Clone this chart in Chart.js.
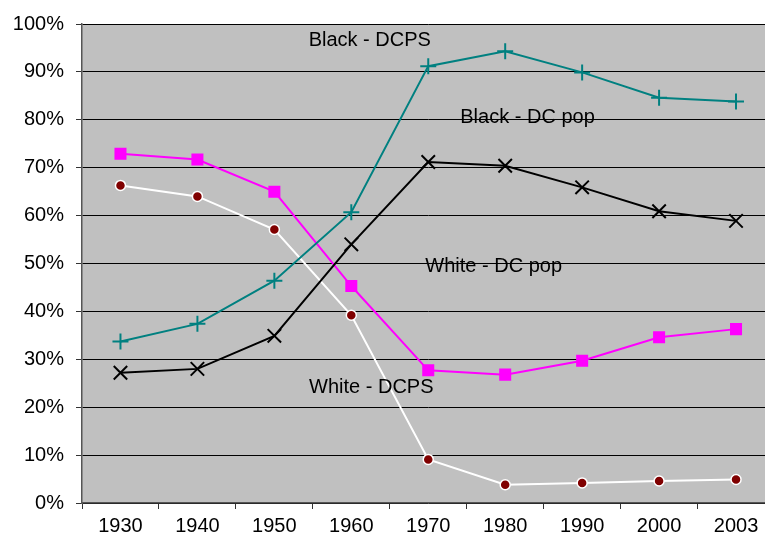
<!DOCTYPE html>
<html>
<head>
<meta charset="utf-8">
<script src="https://cdn.jsdelivr.net/npm/chart.js@4/dist/chart.umd.min.js"></script>
<style>
  html, body { margin: 0; padding: 0; background: #fff; overflow: hidden; }
  #wrap { width: 786px; height: 543px; }
</style>
</head>
<body>
<div id="wrap"><canvas id="chart" width="786" height="543"></canvas></div>
<script>
const years = ['1930', '1940', '1950', '1960', '1970', '1980', '1990', '2000', '2003'];
const blackDCPS = [33.7, 37.4, 46.4, 60.7, 91.2, 94.3, 89.9, 84.6, 83.8];
const blackDCpop = [27.2, 28.0, 34.9, 54.0, 71.2, 70.4, 65.9, 60.9, 58.9];
const whiteDCpop = [72.9, 71.7, 65.0, 45.3, 27.7, 26.8, 29.7, 34.6, 36.3];
const whiteDCPS = [66.3, 64.0, 57.1, 39.2, 9.1, 3.8, 4.2, 4.6, 4.9];
const yTicks = [0, 10, 20, 30, 40, 50, 60, 70, 80, 90, 100];

// series names drawn inside the plot, anchored at (category index, value)
const seriesLabels = [
  { text: 'Black - DCPS', x: 3.24, y: 96.6 },
  { text: 'Black - DC pop', x: 5.29, y: 80.5 },
  { text: 'White - DC pop', x: 4.85, y: 49.3 },
  { text: 'White - DCPS', x: 3.26, y: 24.2 }
];

const font = '"Liberation Sans", Arial, sans-serif';

const plotBg = {
  id: 'plotBg',
  beforeDraw(chart) {
    const { ctx, chartArea: a } = chart;
    ctx.save();
    ctx.fillStyle = '#c0c0c0';
    ctx.fillRect(a.left, a.top, a.right - a.left, a.bottom - a.top);
    ctx.restore();
  }
};

const inlineLabels = {
  id: 'inlineLabels',
  afterDatasetsDraw(chart) {
    const { ctx, scales } = chart;
    ctx.save();
    ctx.font = '20px ' + font;
    ctx.fillStyle = '#000';
    ctx.textAlign = 'center';
    ctx.textBaseline = 'middle';
    seriesLabels.forEach(l => {
      ctx.fillText(l.text, scales.x.getPixelForValue(l.x), scales.y.getPixelForValue(l.y));
    });
    ctx.restore();
  }
};

new Chart(document.getElementById('chart').getContext('2d'), {
  type: 'line',
  data: {
    labels: years,
    datasets: [
      {
        label: 'Black - DCPS', data: blackDCPS,
        borderColor: '#008080', backgroundColor: '#008080', borderWidth: 2,
        pointStyle: 'cross', pointRadius: 8, pointBorderWidth: 2
      },
      {
        label: 'Black - DC pop', data: blackDCpop,
        borderColor: '#000000', backgroundColor: '#000000', borderWidth: 2,
        pointStyle: 'crossRot', pointRadius: 9.5, pointBorderWidth: 2
      },
      {
        label: 'White - DC pop', data: whiteDCpop,
        borderColor: '#ff00ff', backgroundColor: '#ff00ff', borderWidth: 2,
        pointStyle: 'rect', pointRadius: 8.5, pointBorderWidth: 0
      },
      {
        label: 'White - DCPS', data: whiteDCPS,
        borderColor: '#ffffff', backgroundColor: '#800000', borderWidth: 2,
        pointStyle: 'circle', pointRadius: 5, pointBorderColor: '#ffffff', pointBorderWidth: 1.5
      }
    ]
  },
  options: {
    responsive: false,
    animation: false,
    layout: { padding: { left: 0, top: 21, right: 0, bottom: 0 } },
    elements: { line: { tension: 0 } },
    plugins: { legend: { display: false }, tooltip: { enabled: false } },
    scales: {
      x: {
        type: 'category',
        offset: true,
        grid: { display: true, drawOnChartArea: false, offset: true, tickLength: 6, color: '#333' },
        border: { color: '#555', width: 1.5 },
        ticks: {
          color: '#000', padding: 5,
          font: { size: 20, family: font },
          maxRotation: 0, autoSkip: false
        },
        afterFit(s) { s.height = 40; }
      },
      y: {
        min: 0, max: 100,
        afterBuildTicks(s) { s.ticks = yTicks.map(v => ({ value: v })); },
        grid: { color: '#000', lineWidth: 1, tickLength: 6, tickColor: '#333' },
        border: { color: '#555', width: 1.5 },
        ticks: {
          color: '#000', padding: 12,
          font: { size: 20, family: font },
          callback: v => v + '%'
        },
        afterFit(s) { s.width = 82; }
      }
    }
  },
  plugins: [plotBg, inlineLabels]
});
</script>
</body>
</html>
